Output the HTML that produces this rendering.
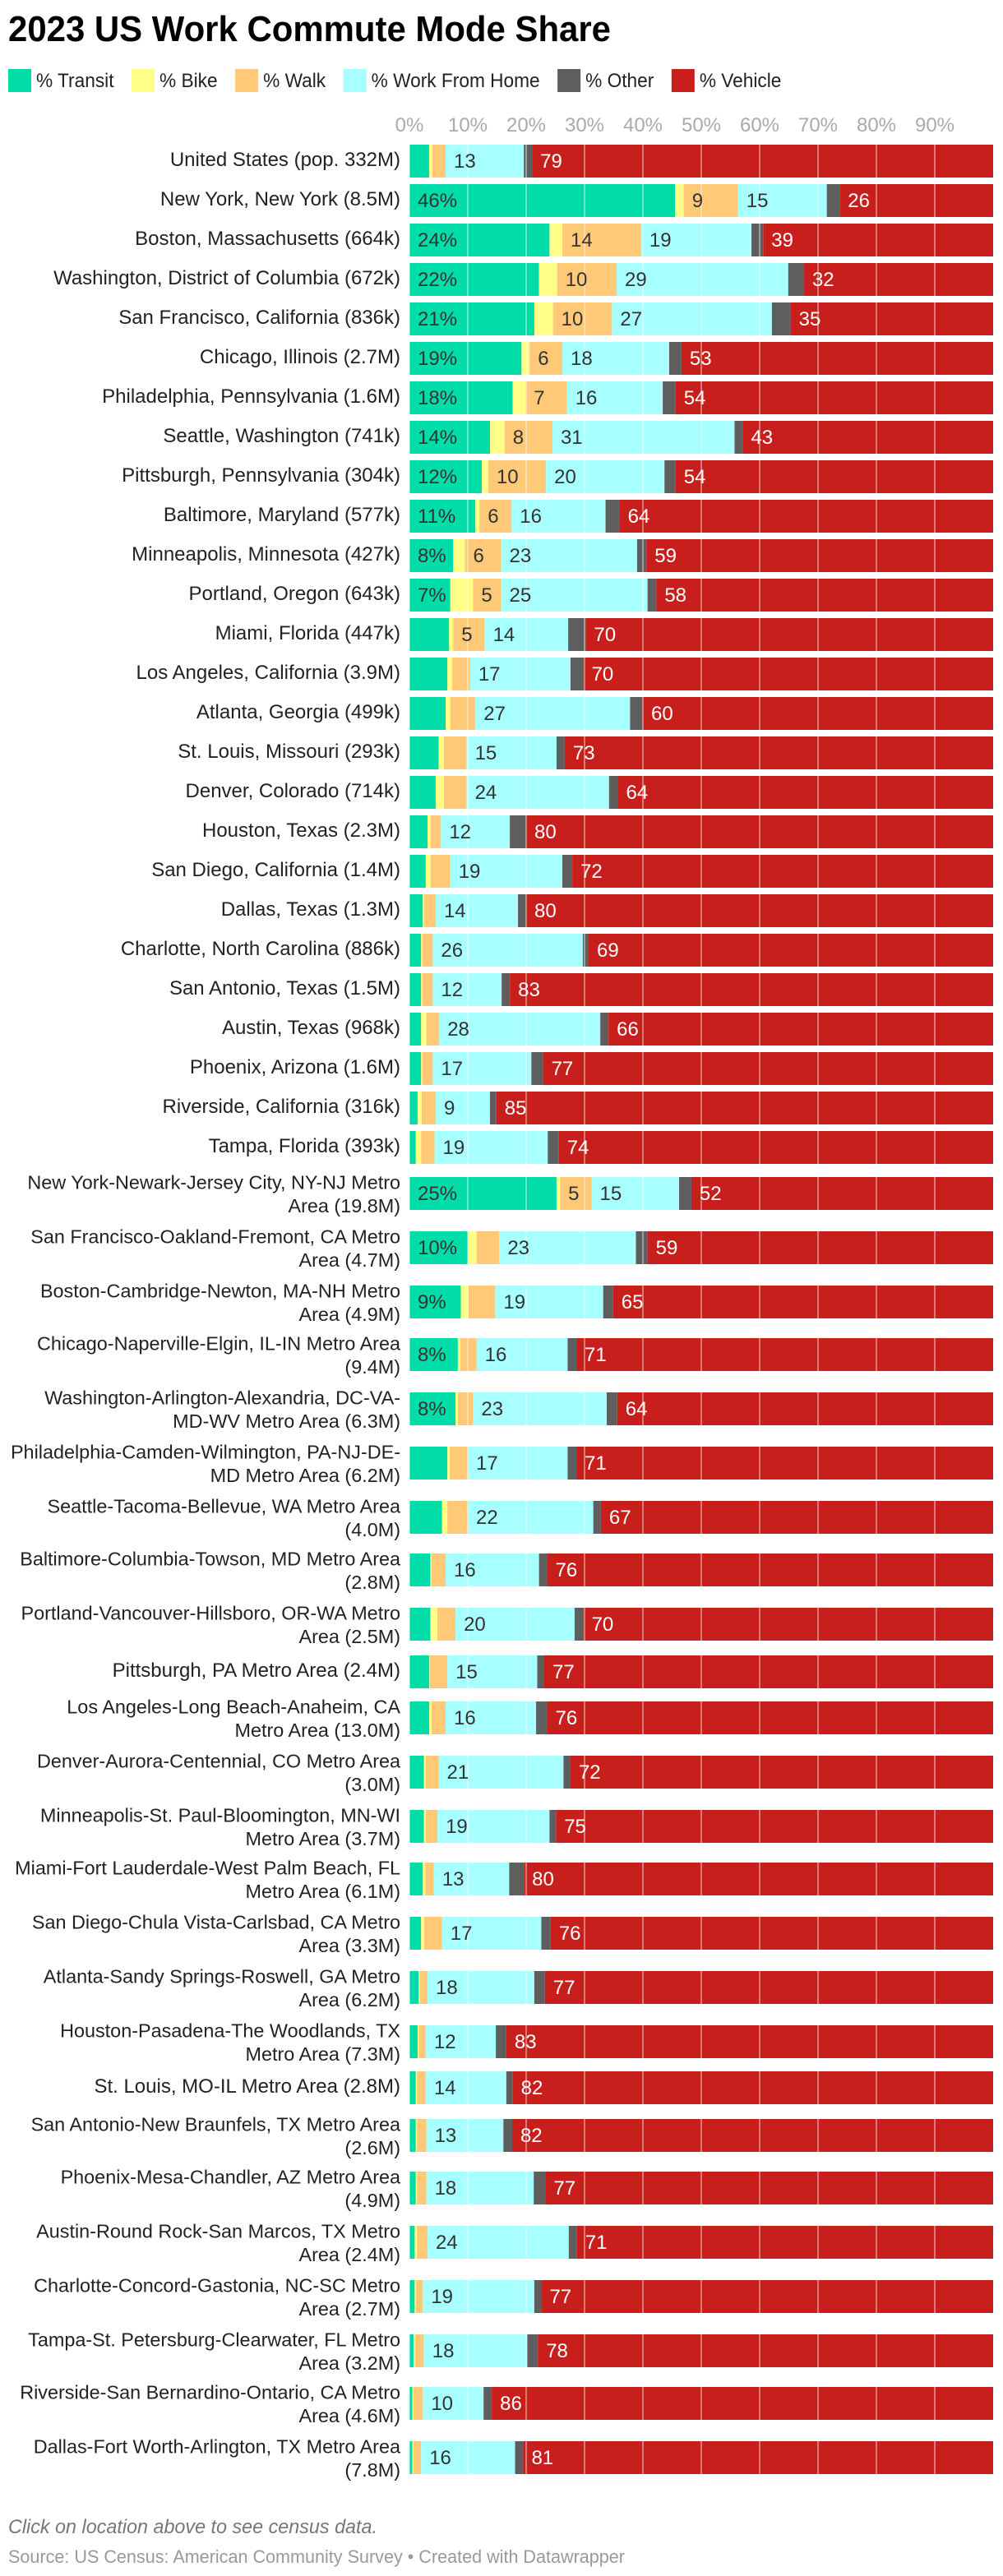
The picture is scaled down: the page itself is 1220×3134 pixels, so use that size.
<!DOCTYPE html>
<html lang="en">
<head>
<meta charset="utf-8">
<title>2023 US Work Commute Mode Share</title>
<style>
  html, body { margin: 0; padding: 0; background: #fff; }
  body { width: 1220px; height: 3134px; overflow: hidden; font-family: "Liberation Sans", Arial, sans-serif; }
  svg { display: block; }
  text { font-family: "Liberation Sans", Arial, sans-serif; }
</style>
</head>
<body>
<svg id="chart" xmlns="http://www.w3.org/2000/svg" width="1220" height="3134" viewBox="0 0 1220 3134">
  <text x="10" y="50" font-size="44" font-weight="700" fill="#000" textLength="733" lengthAdjust="spacingAndGlyphs">2023 US Work Commute Mode Share</text>
  <g id="legend"></g>
  <g id="axis"></g>
  <g id="rows"></g>
  <g id="grid"></g>
  <g id="values"></g>
  <text x="10" y="3082" font-size="24" font-style="italic" fill="#777" textLength="449" lengthAdjust="spacingAndGlyphs">Click on location above to see census data.</text>
  <text x="10" y="3118" font-size="22" fill="#999" textLength="750" lengthAdjust="spacingAndGlyphs">Source: US Census: American Community Survey • Created with Datawrapper</text>
</svg>
<script>
const categories = [
  "United States (pop. 332M)",
  "New York, New York (8.5M)",
  "Boston, Massachusetts (664k)",
  "Washington, District of Columbia (672k)",
  "San Francisco, California (836k)",
  "Chicago, Illinois (2.7M)",
  "Philadelphia, Pennsylvania (1.6M)",
  "Seattle, Washington (741k)",
  "Pittsburgh, Pennsylvania (304k)",
  "Baltimore, Maryland (577k)",
  "Minneapolis, Minnesota (427k)",
  "Portland, Oregon (643k)",
  "Miami, Florida (447k)",
  "Los Angeles, California (3.9M)",
  "Atlanta, Georgia (499k)",
  "St. Louis, Missouri (293k)",
  "Denver, Colorado (714k)",
  "Houston, Texas (2.3M)",
  "San Diego, California (1.4M)",
  "Dallas, Texas (1.3M)",
  "Charlotte, North Carolina (886k)",
  "San Antonio, Texas (1.5M)",
  "Austin, Texas (968k)",
  "Phoenix, Arizona (1.6M)",
  "Riverside, California (316k)",
  "Tampa, Florida (393k)",
  "New York-Newark-Jersey City, NY-NJ Metro|Area (19.8M)",
  "San Francisco-Oakland-Fremont, CA Metro|Area (4.7M)",
  "Boston-Cambridge-Newton, MA-NH Metro|Area (4.9M)",
  "Chicago-Naperville-Elgin, IL-IN Metro Area|(9.4M)",
  "Washington-Arlington-Alexandria, DC-VA-|MD-WV Metro Area (6.3M)",
  "Philadelphia-Camden-Wilmington, PA-NJ-DE-|MD Metro Area (6.2M)",
  "Seattle-Tacoma-Bellevue, WA Metro Area|(4.0M)",
  "Baltimore-Columbia-Towson, MD Metro Area|(2.8M)",
  "Portland-Vancouver-Hillsboro, OR-WA Metro|Area (2.5M)",
  "Pittsburgh, PA Metro Area (2.4M)",
  "Los Angeles-Long Beach-Anaheim, CA|Metro Area (13.0M)",
  "Denver-Aurora-Centennial, CO Metro Area|(3.0M)",
  "Minneapolis-St. Paul-Bloomington, MN-WI|Metro Area (3.7M)",
  "Miami-Fort Lauderdale-West Palm Beach, FL|Metro Area (6.1M)",
  "San Diego-Chula Vista-Carlsbad, CA Metro|Area (3.3M)",
  "Atlanta-Sandy Springs-Roswell, GA Metro|Area (6.2M)",
  "Houston-Pasadena-The Woodlands, TX|Metro Area (7.3M)",
  "St. Louis, MO-IL Metro Area (2.8M)",
  "San Antonio-New Braunfels, TX Metro Area|(2.6M)",
  "Phoenix-Mesa-Chandler, AZ Metro Area|(4.9M)",
  "Austin-Round Rock-San Marcos, TX Metro|Area (2.4M)",
  "Charlotte-Concord-Gastonia, NC-SC Metro|Area (2.7M)",
  "Tampa-St. Petersburg-Clearwater, FL Metro|Area (3.2M)",
  "Riverside-San Bernardino-Ontario, CA Metro|Area (4.6M)",
  "Dallas-Fort Worth-Arlington, TX Metro Area|(7.8M)"
];

const transit = [3.4,45.5,24.0,22.2,21.4,19.2,17.7,13.8,12.4,11.3,7.5,7.0,6.8,6.5,6.2,5.0,4.5,3.1,2.8,2.3,2.0,2.0,2.0,2.0,1.4,1.1,
  25.2,10.0,8.8,8.3,7.9,6.5,5.6,3.6,3.6,3.4,3.4,2.5,2.5,2.3,2.0,1.6,1.4,1.1,1.1,1.1,0.9,0.9,0.7,0.5,0.5];
const bike = [0.5,1.5,2.2,3.1,3.2,1.4,2.2,2.5,1.1,0.7,2.0,3.9,0.7,0.8,0.8,0.9,1.4,0.5,0.8,0.2,0.2,0.2,0.9,0.2,0.7,0.9,
  0.6,1.5,1.3,0.4,0.4,0.4,0.9,0.2,1.2,0.1,0.4,0.3,0.3,0.4,0.5,0.2,0.2,0.2,0.2,0.2,0.4,0.2,0.3,0.2,0.2];
const walk = [2.3,9.3,13.5,10.2,10.1,5.6,7.1,8.2,9.9,5.5,6.2,4.8,5.4,3.1,4.3,3.9,3.9,1.8,3.4,2.0,1.8,1.8,2.2,1.8,2.4,2.3,
  5.4,3.9,4.6,2.8,2.6,3.1,3.5,2.4,3.1,3.0,2.4,2.2,2.0,1.5,3.1,1.3,1.2,1.5,1.6,1.6,1.8,1.2,1.5,1.6,1.3];
const workFromHome = [13.4,15.2,18.9,29.4,27.4,18.3,16.4,31.2,20.3,16.1,23.3,25.1,14.3,17.2,26.5,15.4,24.4,11.8,19.2,14.1,25.7,11.8,27.6,16.9,9.3,19.4,
  15.0,23.4,18.5,15.6,22.9,17.1,21.5,16.0,20.4,15.4,15.5,21.4,19.2,12.9,17.0,18.3,12.0,13.8,13.2,18.4,24.2,19.1,17.7,10.4,16.1];
const other = [1.4,2.2,2.0,2.7,3.2,2.1,2.2,1.4,1.9,2.4,1.6,1.5,3.0,2.2,2.2,1.4,1.5,2.8,1.7,1.4,1.0,1.4,1.4,2.0,1.1,1.9,
  2.1,2.0,1.7,1.5,1.8,1.5,1.3,1.4,1.5,1.2,1.9,1.2,1.1,2.5,1.6,1.8,1.8,1.1,1.5,2.0,1.4,1.2,1.8,1.4,1.4];
const vehicle = [79.0,26.3,39.4,32.4,34.7,53.4,54.4,42.9,54.4,64.0,59.4,57.7,69.8,70.2,60.0,73.4,64.3,80.0,72.1,80.0,69.3,82.8,65.9,77.1,85.1,74.4,
  51.7,59.2,65.1,71.4,64.4,71.4,67.2,76.4,70.2,76.9,76.4,72.4,74.9,80.4,75.8,76.8,83.4,82.3,82.4,76.7,71.3,77.4,78.0,85.9,80.5];

const seriesNames = ["% Transit","% Bike","% Walk","% Work From Home","% Other","% Vehicle"];
const tickLabels = [0,10,20,30,40,50,60,70,80,90];

const seriesValues = [transit, bike, walk, workFromHome, other, vehicle];
const seriesColors = ["#00dda8","#ffff88","#ffc977","#a8ffff","#5e5e5e","#c91f1c"];
const labelColors = ["#333333",null,"#333333","#333333",null,"#ffffff"];
const labelMinimum = [7, Infinity, 4.7, 0, Infinity, 0];
const seriesSlugs = ["transit","bike","walk","work-from-home","other","vehicle"];

const SVG_NS = "http://www.w3.org/2000/svg";
const PLOT_LEFT = 498, PLOT_WIDTH = 710, BAR_HEIGHT = 40, FIRST_BAR_TOP = 176, GRID_BOTTOM = 3010;
const xScale = v => PLOT_LEFT + v / 100 * PLOT_WIDTH;

function svgEl(tag, parent, attrs) {
  const el = document.createElementNS(SVG_NS, tag);
  Object.keys(attrs).forEach(k => el.setAttribute(k, attrs[k]));
  parent.appendChild(el);
  return el;
}

/* Row tops: one-line rows step 48, two-line rows 65.5, mixed neighbours 57; snapped to device pixels of a 2x render */
function rowTops() {
  const tops = [];
  let running = FIRST_BAR_TOP;
  const firstMetro = categories.findIndex(c => c.indexOf("|") >= 0);
  categories.forEach((c, i) => {
    if (i > 0) {
      const a = categories[i - 1].indexOf("|") >= 0;
      const b = c.indexOf("|") >= 0;
      let step = a && b ? 65.5 : (a || b ? 57 : 48);
      if (i === firstMetro) step = 56;
      running += step;
    }
    tops.push(Math.round(running / 2) * 2);
  });
  return tops;
}

/* Legend: each entry starts after the previous entry's text */
const legendGroup = document.getElementById("legend");
const legendGap = 21.5;
const legendScale = 0.945;
let legendX = 10;
seriesNames.forEach((name, i) => {
  const entry = svgEl("g", legendGroup, {});
  
  
  const swatch = svgEl("rect", entry, { x: legendX, y: 84, width: 28, height: 28, fill: seriesColors[i] });
  
  
  const label = svgEl("text", entry, { x: legendX + 34, y: 106, "font-size": 24, fill: "#222" });
  
  
  label.textContent = name;
  const w = label.getComputedTextLength() * legendScale;
  label.setAttribute("textLength", w.toFixed(1));
  label.setAttribute("lengthAdjust", "spacingAndGlyphs");
  legendX += 34 + w + legendGap;
});

/* Axis tick labels and gridlines */
const axisGroup = document.getElementById("axis");
const gridGroup = document.getElementById("grid");
tickLabels.forEach(t => {
  const tick = svgEl("text", axisGroup, { x: xScale(t), y: 160, "font-size": 24, fill: "#aaaaaa", "text-anchor": "middle" });
  
  
  tick.textContent = t + "%";
  const line = svgEl("rect", gridGroup, { x: xScale(t) - (t === 0 ? 0 : 1), y: FIRST_BAR_TOP, width: t === 0 ? 1 : 2, height: GRID_BOTTOM - FIRST_BAR_TOP, fill: "#ffffff", "fill-opacity": 0.4 });
  
  
});

/* Rows */
const rowsGroup = document.getElementById("rows");
const valuesGroup = document.getElementById("values");
const tops = rowTops();
categories.forEach((cat, i) => {
  const top = tops[i];
  const row = svgEl("g", rowsGroup, {});
  
  

  const lines = cat.split("|");
  const label = svgEl("text", row, { "font-size": lines.length === 1 ? 24 : 23.4, fill: "#222222", "text-anchor": "end", cursor: "pointer" });
  
  
  lines.forEach((ln, k) => {
    const baseline = lines.length === 1 ? top + 26 : top + 14.5 + k * 28.5;
    const span = svgEl("tspan", label, { x: 487, y: baseline });
    span.textContent = ln;
  });

  let cumulative = 0;
  seriesValues.forEach((values, s) => {
    const value = values[i];
    const x0 = xScale(cumulative);
    const x1 = xScale(cumulative + value);
    const seg = svgEl("rect", row, { x: x0, y: top, width: Math.max(0, x1 - x0), height: BAR_HEIGHT, fill: seriesColors[s] });
    
    
    if (labelColors[s] && value >= labelMinimum[s]) {
      const txt = svgEl("text", valuesGroup, { x: x0 + 10, y: top + 28, "font-size": 24, fill: labelColors[s] });
      
      
      txt.textContent = Math.round(value) + (s === 0 ? "%" : "");
    }
    cumulative += value;
  });
});
</script>
</body>
</html>
